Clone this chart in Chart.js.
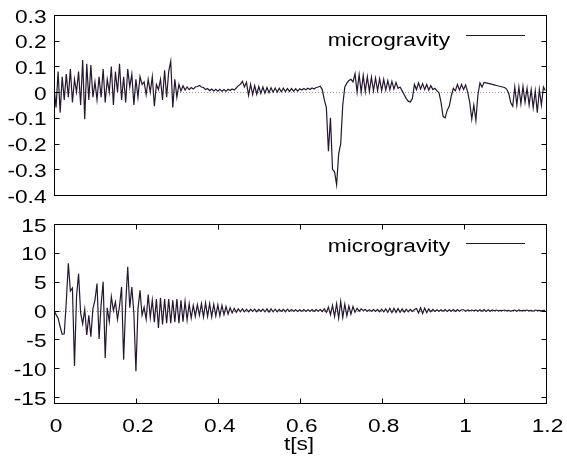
<!DOCTYPE html>
<html>
<head>
<meta charset="utf-8">
<title>microgravity</title>
<script src="https://cdn.jsdelivr.net/npm/chart.js"></script>
<style>
    body {
        margin: 0;
        background: #fff;
    }
    .panel {
        position: absolute;
        left: 0;
    }
    #top { top: 0; width: 567px; height: 210px; }
    #bottom { top: 210px; width: 567px; height: 246px; }
</style>
</head>
<body>
<div class="panel" id="top"><canvas id="topChart" width="567" height="210"></canvas></div>
<div class="panel" id="bottom"><canvas id="bottomChart" width="567" height="246"></canvas></div>

<script>
// samples every 5 ms
const SAMPLE_STEP = 0.005;

const upperG = [
    0.02, -0.06, 0.08, -0.08, 0.06, -0.03, 0.07, -0.02, 0.09, -0.04, 0.05, 0.0, 0.08, -0.05, 0.125, -0.105, 0.11, -0.03, 0.105, -0.02,
    0.04, -0.03, 0.06, -0.02, 0.09, -0.04, 0.05, 0.0, 0.1, -0.05, 0.08, 0.0, 0.11, -0.03, 0.06, -0.04, 0.09, 0.02, 0.07, -0.05,
    0.05, -0.02, 0.06, 0.03, 0.04, -0.01, 0.05, 0.0, 0.06, -0.055, 0.03, 0.01, 0.05, -0.03, 0.085, -0.02, 0.08, 0.12, -0.06, 0.05,
    -0.02, 0.03, 0.005, 0.025, 0.008, 0.02, 0.01, 0.018, 0.012, 0.02, 0.022, 0.026, 0.02, 0.018, 0.01, 0.014, 0.006, 0.012, 0.005, 0.011,
    0.004, 0.011, 0.004, 0.01, 0.004, 0.011, 0.006, 0.012, 0.008, 0.016, 0.025, 0.03, 0.042, 0.02, 0.038, -0.012, 0.03, -0.01, 0.025, -0.008,
    0.022, -0.005, 0.02, -0.004, 0.018, -0.002, 0.017, 0.0, 0.016, 0.0, 0.015, 0.001, 0.015, 0.002, 0.014, 0.003, 0.014, 0.003, 0.013, 0.004,
    0.013, 0.008, 0.014, 0.009, 0.015, 0.01, 0.016, 0.012, 0.018, 0.02, 0.023, 0.01, -0.03, -0.06, -0.23, -0.1, -0.3, -0.31, -0.36, -0.24,
    -0.2, -0.05, 0.02, 0.035, 0.045, 0.05, 0.04, 0.072, 0.0, 0.068, 0.0, 0.065, 0.002, 0.06, 0.003, 0.058, 0.005, 0.055, 0.006, 0.052,
    0.006, 0.05, 0.008, 0.045, 0.01, 0.042, 0.012, 0.038, 0.015, 0.02, 0.005, -0.01, -0.025, -0.035, -0.038, -0.025, 0.03, 0.01, 0.036, 0.012,
    0.033, 0.01, 0.03, 0.008, 0.025, 0.01, 0.015, 0.005, -0.003, -0.04, -0.095, -0.1, -0.07, -0.055, -0.015, 0.015, 0.005, 0.03, 0.008, 0.03,
    0.01, 0.028, 0.0, -0.04, -0.105, -0.05, -0.11, -0.01, 0.036, 0.02, 0.038, 0.036, 0.034, 0.032, 0.03, 0.028, 0.026, 0.024, 0.022, 0.02,
    0.018, 0.012, -0.003, -0.04, -0.055, 0.02, -0.05, 0.02, -0.045, 0.022, -0.04, 0.015, -0.05, 0.01, -0.06, 0.005, -0.08, 0.01, -0.05, 0.02,
    0.005
];

const lowerG = [
    0.1, -0.7, -1.3, -2.8, -4.1, -4.0, 1.5, 8.2, 3.4, 3.9, -9.6, 2.4, 6.4, -0.4, -2.3, 0.2, -4.2, -0.8, -4.5, 0.3,
    1.8, 4.7, -4.9, 1.0, 5.0, -8.2, 0.5, -1.9, 2.4, 0.0, 1.5, -1.5, 0.8, 4.1, -8.5, 1.0, 7.6, 0.5, 4.1, -0.5,
    -10.5, 0.3, 3.5, -0.8, 0.6, -1.5, 2.8, -1.2, 1.8, -2.0, 2.0, -3.0, 2.2, -2.4, 2.0, -2.2, 2.0, -2.2, 1.8, -2.0,
    2.0, -2.2, 1.8, -1.9, 1.6, -1.6, 1.2, -1.3, 0.9, -1.0, 1.0, -0.8, 1.2, -1.1, 1.3, -1.0, 1.2, -1.1, 1.1, -0.9,
    1.0, -0.9, 0.9, -0.7, 0.7, -0.6, 0.5, -0.4, 0.4, -0.3, 0.3, -0.2, 0.3, -0.2, 0.25, -0.2, 0.2, -0.15, 0.25, -0.2,
    0.2, -0.15, 0.25, -0.2, 0.3, -0.25, 0.3, -0.2, 0.25, -0.2, 0.2, -0.15, 0.2, -0.2, 0.25, -0.15, 0.2, -0.1, 0.15, -0.15,
    0.15, -0.1, 0.2, -0.15, 0.15, -0.1, 0.2, -0.15, 0.2, -0.1, 0.2, -0.15, 0.3, -0.3, 0.6, -0.7, 0.9, -1.0, 1.2, -1.3,
    1.6, -1.2, 1.1, -0.9, 0.8, -0.6, 0.7, -0.3, 0.4, -0.1, 0.3, 0.0, 0.2, -0.1, 0.15, -0.1, 0.2, -0.15, 0.2, -0.2,
    0.25, -0.2, 0.3, -0.3, 0.4, -0.35, 0.4, -0.3, 0.35, -0.3, 0.3, -0.25, 0.25, -0.2, 0.2, -0.15, 0.2, 0.35, -0.4, 0.5,
    -0.5, 0.45, -0.35, 0.3, -0.2, 0.2, -0.15, 0.15, -0.1, 0.15, -0.1, 0.2, -0.15, 0.15, -0.1, 0.2, -0.15, 0.2, -0.1, 0.15,
    0.15, -0.1, 0.1, -0.05, 0.1, -0.05, 0.1, -0.1, 0.15, -0.1, 0.2, -0.15, 0.15, -0.1, 0.1, -0.05, 0.1, -0.05, 0.05, 0.0,
    0.1, -0.05, 0.05, -0.1, 0.0, 0.1, -0.1, 0.1, -0.05, 0.05, 0.0, 0.1, -0.05, 0.05, -0.1, 0.1, 0.0, 0.05, -0.05, 0.05,
    0.0
];

const xTicks = [0, 0.2, 0.4, 0.6, 0.8, 1, 1.2];
const upperYTicks = [0.3, 0.2, 0.1, 0, -0.1, -0.2, -0.3, -0.4];
const lowerYTicks = [15, 10, 5, 0, -5, -10, -15];
const seriesName = "microgravity";
const xTitle = "t[s]";

const LINE_COLOR = '#24172f';
const FONT = '18px "Liberation Sans", Arial, sans-serif';
const TEXT_STRETCH = 1.26;

function toPoints(values) {
    return values.map((v, i) => ({ x: +(i * SAMPLE_STEP).toFixed(3), y: v }));
}

// text in the original is wider than a normal sans, so stretch it sideways
function wideText(ctx, txt, x, y, align) {
    ctx.save();
    ctx.translate(x, y);
    ctx.scale(TEXT_STRETCH, 1);
    ctx.textAlign = align;
    ctx.fillText(txt, 0, 0);
    ctx.restore();
}

// gnuplot style box: dotted zero line, inward ticks, labels, key
const gnuFrame = {
    id: 'gnuFrame',
    beforeDatasetsDraw(chart, args, opts) {
        const { ctx, chartArea: a, scales: { y } } = chart;
        const y0 = Math.round(y.getPixelForValue(0)) + 0.5;
        ctx.save();
        ctx.strokeStyle = '#9a9a9a';
        ctx.lineWidth = 1;
        ctx.setLineDash([1, 2]);
        ctx.beginPath();
        ctx.moveTo(a.left, y0);
        ctx.lineTo(a.right, y0);
        ctx.stroke();
        ctx.restore();
    },
    afterDraw(chart, args, opts) {
        const { ctx, chartArea: a, scales: { x, y } } = chart;
        const L = Math.round(a.left) + 0.5, R = Math.round(a.right) + 0.5;
        const T = Math.round(a.top) + 0.5, B = Math.round(a.bottom) + 0.5;
        const tick = 5;
        ctx.save();
        ctx.strokeStyle = '#000';
        ctx.lineWidth = 1;
        ctx.strokeRect(L, T, R - L, B - T);

        ctx.beginPath();
        opts.yTicks.forEach(v => {
            const py = Math.round(y.getPixelForValue(v)) + 0.5;
            ctx.moveTo(L, py); ctx.lineTo(L + tick, py);
            ctx.moveTo(R, py); ctx.lineTo(R - tick, py);
        });
        if (opts.xTicks) {
            opts.xTicks.forEach(v => {
                const px = Math.round(x.getPixelForValue(v)) + 0.5;
                ctx.moveTo(px, B); ctx.lineTo(px, B - tick);
                ctx.moveTo(px, T); ctx.lineTo(px, T + tick);
            });
        }
        ctx.stroke();

        ctx.fillStyle = '#000';
        ctx.font = FONT;
        ctx.textBaseline = 'alphabetic';
        opts.yTicks.forEach(v => {
            wideText(ctx, String(v), a.left - 7.5, y.getPixelForValue(v) + 7.5, 'right');
        });
        if (opts.xLabels) {
            opts.xTicks.forEach(v => {
                wideText(ctx, String(v), x.getPixelForValue(v) + 2, opts.xLabelBase, 'center');
            });
            wideText(ctx, xTitle, 299, opts.titleBase, 'center');
        }

        // key
        wideText(ctx, seriesName, 450, opts.keyBase, 'right');
        ctx.strokeStyle = LINE_COLOR;
        ctx.lineWidth = 1;
        ctx.beginPath();
        ctx.moveTo(466, opts.keyLine);
        ctx.lineTo(525, opts.keyLine);
        ctx.stroke();
        ctx.restore();
    }
};

function makeChart(id, values, yMin, yMax, padding, frameOpts) {
    return new Chart(document.getElementById(id), {
        type: 'line',
        data: {
            datasets: [{
                label: seriesName,
                data: toPoints(values),
                borderColor: LINE_COLOR,
                borderWidth: 1.2,
                pointRadius: 0,
                tension: 0
            }]
        },
        options: {
            responsive: false,
            animation: false,
            layout: { padding: padding },
            plugins: {
                legend: { display: false },
                tooltip: { enabled: false },
                gnuFrame: frameOpts
            },
            scales: {
                x: { type: 'linear', min: 0, max: 1.2, display: false },
                y: { type: 'linear', min: yMin, max: yMax, display: false }
            }
        },
        plugins: [gnuFrame]
    });
}

makeChart('topChart', upperG, -0.4, 0.3,
    { left: 54, top: 15, right: 21.5, bottom: 15 },
    { yTicks: upperYTicks, xTicks: null, xLabels: false, keyBase: 45.5, keyLine: 35.5 });

makeChart('bottomChart', lowerG, -16, 15,
    { left: 54, top: 14, right: 21.5, bottom: 53 },
    { yTicks: lowerYTicks, xTicks: xTicks, xLabels: true, xLabelBase: 222, titleBase: 240, keyBase: 42, keyLine: 33.5 });
</script>
</body>
</html>
